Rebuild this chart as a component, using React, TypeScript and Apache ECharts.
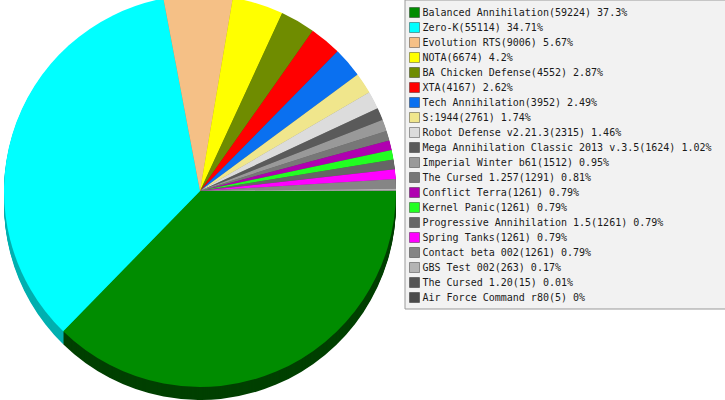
import React, { useEffect, useRef } from "react";
import * as echarts from "echarts";

const categories = [
  "Balanced Annihilation",
  "Zero-K",
  "Evolution RTS",
  "NOTA",
  "BA Chicken Defense",
  "XTA",
  "Tech Annihilation",
  "S:1944",
  "Robot Defense v2.21.3",
  "Mega Annihilation Classic 2013 v.3.5",
  "Imperial Winter b61",
  "The Cursed 1.257",
  "Conflict Terra",
  "Kernel Panic",
  "Progressive Annihilation 1.5",
  "Spring Tanks",
  "Contact beta 002",
  "GBS Test 002",
  "The Cursed 1.20",
  "Air Force Command r80",
];

const values = [
  59224, 55114, 9006, 6674, 4552, 4167, 3952, 2761, 2315, 1624, 1512, 1291,
  1261, 1261, 1261, 1261, 1261, 263, 15, 5,
];

const topColors = [
  "#008c00", "#00ffff", "#f5c086", "#ffff00", "#6f8c00", "#ff0000",
  "#0a70f0", "#f0e68c", "#dcdcdc", "#5a5a5a", "#999999", "#777777",
  "#b000b0", "#22ff22", "#666666", "#ff00ff", "#858585", "#b4b4b4",
  "#555555", "#4a4a4a",
];

const sideColors = [
  "#004000", "#00b0b0", "#a8845c", "#b0b000", "#4a5e00", "#a80000",
  "#064a9e", "#a39c5f", "#969696", "#3c3c3c", "#666666", "#505050",
  "#760076", "#17ad17", "#444444", "#ad00ad", "#5a5a5a", "#7a7a7a",
  "#3a3a3a", "#323232",
];

const CX = 200;
const CY = 191;
const R = 196;
const DEPTH = 13;

export default function App() {
  const ref = useRef<HTMLDivElement>(null);

  useEffect(() => {
    document.body.style.margin = "0";
    if (!ref.current) return;
    const chart = echarts.init(ref.current, undefined, { renderer: "svg" });
    const total = values.reduce((a, b) => a + b, 0);
    const valueByName: Record<string, number> = {};
    categories.forEach((c, i) => (valueByName[c] = values[i]));

    const common = {
      type: "pie" as const,
      radius: R,
      startAngle: 0,
      clockwise: true,
      avoidLabelOverlap: false,
      minAngle: 0,
      label: { show: false },
      labelLine: { show: false },
      emphasis: { disabled: true },
      silent: true,
    };

    const sides: any[] = [];
    for (let k = DEPTH; k >= 1; k--) {
      sides.push({
        ...common,
        name: "side" + k,
        z: 1,
        center: [CX, CY + k],
        data: values.map((v, i) => ({
          name: "s_" + categories[i],
          value: v,
          itemStyle: { color: sideColors[i], borderWidth: 0 },
        })),
      });
    }

    chart.setOption({
      animation: false,
      legend: {
        orient: "vertical",
        left: 405,
        top: 0,
        padding: [7, 20, 6, 4],
        backgroundColor: "#f2f2f2",
        borderColor: "#999999",
        borderWidth: 1,
        borderRadius: 0,
        itemWidth: 10,
        itemHeight: 10,
        itemGap: 4,
        icon: "rect",
        selectedMode: false,
        data: categories,
        itemStyle: { borderColor: "rgba(0,0,0,0.35)", borderWidth: 1 },
        textStyle: {
          fontFamily: "DejaVu Sans Mono",
          fontSize: 10,
          lineHeight: 10,
          color: "#1a1a1a",
          padding: [0, 0, 0, -2],
        },
        formatter: (name: string) => {
          const v = valueByName[name];
          const pct = Math.round((v / total) * 10000) / 100;
          return `${name}(${v}) ${pct}%`;
        },
      },
      series: [
        {
          ...common,
          name: "top",
          z: 3,
          center: [CX, CY],
          data: values.map((v, i) => ({
            name: categories[i],
            value: v,
            itemStyle: { color: topColors[i], borderWidth: 0 },
          })),
        },
        ...sides,
      ],
    });
    return () => chart.dispose();
  }, []);

  return (
    <div
      ref={ref}
      style={{ position: "absolute", left: 0, top: 0, width: 725, height: 400 }}
    />
  );
}
